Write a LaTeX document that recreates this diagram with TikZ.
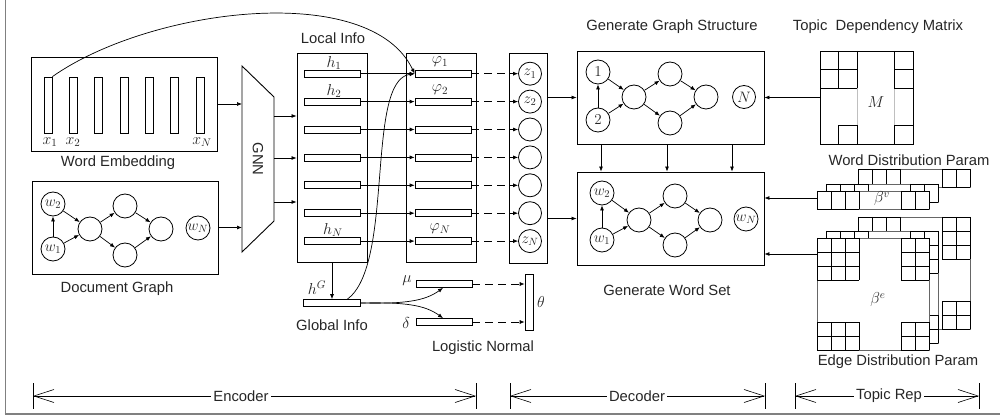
\documentclass[tikz,border=0pt]{standalone}
\usepackage{fontspec}
\setmainfont{Liberation Sans}
\usetikzlibrary{arrows.meta,calc}
\newcommand{\cellblk}[5]{%
  \foreach \ii in {0,...,#3}{\draw[cellln] ({#1+14*\ii},{#2}) -- ({#1+14*\ii},{#2+#5*#4});}%
  \foreach \jj in {0,...,#4}{\draw[cellln] ({#1},{#2+#5*\jj}) -- ({#1+14*#3},{#2+#5*\jj});}%
}
\newcommand{\bvlayer}[2]{%
  \draw[layln, fill=white] ({#1},{#2}) rectangle ({#1+112},{#2+18});
  \cellblk{#1}{#2}{3}{1}{18}
  \cellblk{#1+84}{#2}{2}{1}{18}
}
\newcommand{\belayer}[2]{%
  \draw[layln, fill=white] ({#1},{#2}) rectangle ({#1+112},{#2+112});
  \cellblk{#1}{#2}{3}{3}{14}
  \cellblk{#1+84}{#2}{2}{3}{14}
  \cellblk{#1}{#2+84}{3}{2}{14}
  \cellblk{#1+84}{#2+84}{2}{2}{14}
}
\begin{document}
\begin{tikzpicture}[x=1pt,y=-1pt,
  every node/.style={font=\fontsize{14.8}{17}\selectfont, text=black!85},
  box/.style={draw, line width=0.9pt, inner sep=0},
  bar/.style={draw, fill=white, line width=0.7pt, inner sep=0, minimum width=56pt, minimum height=7pt},
  vbar/.style={draw, fill=white, line width=0.7pt, inner sep=0, minimum width=8pt, minimum height=56pt},
  circ/.style={circle, draw, line width=0.8pt, minimum size=24pt, inner sep=0},
  arr/.style={-{Latex[length=5pt,width=4pt]}, line width=0.7pt},
  dsh/.style={arr, dash pattern=on 8pt off 5pt},
  lbl/.style={inner sep=0},
  mth/.style={inner sep=0, scale=1.1},
  cmth/.style={inner sep=0, scale=1.05},
  cellln/.style={line width=0.8pt, black},
  layln/.style={line width=0.8pt, black!60},
  dim/.style={{Straight Barb[length=20pt,width=13pt]}-{Straight Barb[length=20pt,width=13pt]}, line width=0.6pt},
  tick/.style={line width=0.8pt},
  dimlbl/.style={fill=white, inner sep=2pt}
]
\useasboundingbox (0,0) rectangle (1000,419);
% frame
\draw[gray, line width=1pt] (5.5,-2) -- (5.5,414);
\draw[gray, line width=2.2pt] (4.5,414) -- (1002,414);

% ---------- Word embedding ----------
\node[box, minimum width=186pt, minimum height=94pt] (we) at (124,104) {};
\foreach \k in {0,...,6} \node[vbar] (x\k) at ({48+25.33*\k},105) {};
\node[mth] (lx1) at (50,142) {$x_1$};
\node[mth] (lx2) at (73,142) {$x_2$};
\node[mth] (lxn) at (202,142) {$x_N$};
\node[lbl] (tWE) at (118,163) {Word Embedding};

% ---------- Document graph ----------
\node[box, minimum width=186pt, minimum height=93pt] (dg) at (125,227.5) {};
\node[circ] (dw2) at (53,204) {};
\node[circ] (dw1) at (53,249) {};
\node[circ] (dm) at (90,229) {};
\node[circ] (dt) at (125,206) {};
\node[circ] (db) at (125,255) {};
\node[circ] (dr) at (161,229) {};
\node[circ] (dwn) at (198,228) {};
\node[cmth] at (dw2) {$w_2$};
\node[cmth] at (dw1) {$w_1$};
\node[cmth] at (dwn) {$w_N$};
\draw[arr] (dw1) -- (dw2);
\draw[arr] (dw2) -- (dm);
\draw[arr] (dw1) -- (dm);
\draw[arr] (dm) -- (dt);
\draw[arr] (dm) -- (db);
\draw[arr] (dt) -- (dr);
\draw[arr] (db) -- (dr);
\node[lbl] (tDG) at (117,289) {Document Graph};

% ---------- GNN ----------
\coordinate (gA) at (242,66);
\coordinate (gB) at (274,97);
\coordinate (gC) at (274,221);
\coordinate (gD) at (242,252);
\draw[line width=0.9pt] (gA) -- (gB) -- (gC) -- (gD) -- cycle;
\node[rotate=-90, lbl] (gnn) at (258,159) {GNN};
\draw[arr] (we.east) -- (we.east -| gA);
\draw[arr] (dg.east) -- (dg.east -| gA);

% ---------- Local info ----------
\node[box, minimum width=70pt, minimum height=209pt] (li) at (332,157.5) {};
\node[lbl] (tLI) at (333,38) {Local Info};
\foreach \k in {1,...,7} \node[bar] (h\k) at (332,{73.7+27.9*(\k-1)}) {};
\node[mth] at (334,63) {$h_1$};
\node[mth] at (334,91) {$h_2$};
\node[mth] at (333,230) {$h_N$};
\coordinate (gc1) at (274,116);
\coordinate (gc2) at (274,158);
\coordinate (gc3) at (274,202);
\foreach \c in {gc1,gc2,gc3} \draw[arr] (\c) -- (\c -| li.west);

% ---------- phi ----------
\node[box, minimum width=70pt, minimum height=209pt] (pb) at (441,157.5) {};
\foreach \k in {1,...,7} \node[bar] (p\k) at (443,{73.7+27.9*(\k-1)}) {};
\foreach \k in {1,...,7} \draw[arr] (h\k.east) -- (p\k.west);
\node[mth] at (440,62) {$\varphi_1$};
\node[mth] at (440,90) {$\varphi_2$};
\node[mth] at (440,229) {$\varphi_N$};

% ---------- z ----------
\node[box, minimum width=38pt, minimum height=210pt] (zb) at (528,158) {};
\foreach \k in {1,...,7} \node[circ, minimum size=23pt] (z\k) at (530,{73.7+27.9*(\k-1)}) {};
\node[cmth] at (z1) {$z_1$};
\node[cmth] at (z2) {$z_2$};
\node[cmth] at (z7) {$z_N$};
\foreach \k in {1,...,7} \draw[dsh] (p\k.east) -- (z\k.west);

% ---------- global ----------
\node[bar, minimum width=57pt] (hg) at (331.5,303) {};
\draw[arr] (li.south) -- (li.south |- hg.north);
\node[mth] at (317,288) {$h^G$};
\node[lbl] (tGI) at (332,325) {Global Info};
\node[bar] (mu) at (444,284) {};
\node[bar] (de) at (444,322) {};
\node[mth] at (407,281) {$\mu$};
\node[mth] at (406,323) {$\delta$};
\draw[arr] (hg.east) .. controls (405,304) and (425,301) .. ($(mu.south)+(-1,0)$);
\draw[arr] (hg.east) .. controls (405,302) and (425,305) .. ($(de.north)+(-1,0)$);
\node[vbar] (th) at (529,302) {};
\node[mth] at (541,302) {$\theta$};
\draw[dsh] (mu.east) -- (mu.east -| th.west);
\draw[dsh] (de.east) -- (de.east -| th.west);
\node[lbl] (tLN) at (483,348) {Logistic Normal};

% long curves
\coordinate (hgs) at (347,299.5);
\draw[arr] (hgs) .. controls (395,265) and (365,80) .. (p1.west);
\draw[arr] (x0.north east) .. controls (150,8) and (370,-20) .. (p1.west);

% ---------- Graph structure ----------
\node[box, minimum width=187pt, minimum height=93pt] (gs) at (670.5,97.5) {};
\node[lbl] (tGS) at (672,27) {Generate Graph Structure};
\node[circ] (g1) at (598,72) {};
\node[circ] (g2) at (598,120) {};
\node[circ] (gm) at (634,97) {};
\node[circ] (gt) at (670,74) {};
\node[circ] (gb) at (670,123) {};
\node[circ] (gr) at (706,97) {};
\node[circ, minimum size=23pt] (gN) at (744,97) {};
\node[cmth] at (g1) {$1$};
\node[cmth] at (g2) {$2$};
\node[cmth] at (gN) {$N$};
\draw[arr] (g2) -- (g1);
\draw[arr] (g1) -- (gm);
\draw[arr] (g2) -- (gm);
\draw[arr] (gm) -- (gt);
\draw[arr] (gm) -- (gb);
\draw[arr] (gt) -- (gr);
\draw[arr] (gb) -- (gr);

% ---------- Word set ----------
\node[box, minimum width=187pt, minimum height=93pt] (ws) at (670.5,218.5) {};
\node[lbl] (tWS) at (667,290) {Generate Word Set};
\node[circ] (w2) at (602,193) {};
\node[circ] (w1) at (602,240) {};
\node[circ] (wm) at (639,220) {};
\node[circ] (wt) at (675,196) {};
\node[circ] (wb) at (675,245) {};
\node[circ] (wr) at (710,220) {};
\node[circ] (wN) at (746,219) {};
\node[cmth] at (w2) {$w_2$};
\node[cmth] at (w1) {$w_1$};
\node[cmth] at (wN) {$w_N$};
\draw[arr] (w1) -- (w2);
\draw[arr] (w2) -- (wm);
\draw[arr] (w1) -- (wm);
\draw[arr] (wm) -- (wt);
\draw[arr] (wm) -- (wb);
\draw[arr] (wt) -- (wr);
\draw[arr] (wb) -- (wr);

\draw[arr] (zb.east |- gs.west) -- (gs.west);
\draw[arr] (zb.east |- ws.west) -- (ws.west);
\foreach \xx in {601,667,732} \draw[arr] (gs.south -| \xx,0) -- (ws.north -| \xx,0);

% ---------- Topic dependency matrix ----------
\node[box, minimum width=93pt, minimum height=93pt] (tm) at (866.5,97.5) {};
\node[lbl] (tTM) at (878,27) {Topic~~Dependency Matrix};
\draw[gray!50, line width=0.7pt] (857.2,88.2) -- (857.2,125.4) (894.4,88.2) -- (894.4,125.4);
\draw[cellln] (820,69.6) -- (857.2,69.6) (820,88.2) -- (857.2,88.2)
  (838.6,51) -- (838.6,88.2) (857.2,51) -- (857.2,88.2)
  (894.4,51) -- (894.4,88.2) (894.4,69.6) -- (913,69.6) (894.4,88.2) -- (913,88.2)
  (838.6,125.4) rectangle (857.2,144)
  (894.4,125.4) -- (913,125.4) (894.4,125.4) -- (894.4,144);
\node[mth] (lM) at (876,102) {$M$};
\draw[arr] (tm.west) -- (tm.west -| gs.east);

% ---------- beta^v ----------
\node[lbl] (tWD) at (909,160) {Word Distribution Param};
\bvlayer{858}{169}
\bvlayer{826}{184}
\bvlayer{817}{191}
\node[mth] (lbv) at (882,199) {$\beta^v$};
\coordinate (bva) at (817,198);
\draw[arr] (bva) -- (bva -| ws.east);

% ---------- beta^e ----------
\belayer{858}{217}
\belayer{826}{231}
\belayer{817}{238}
\node[mth] (lbe) at (878,300) {$\beta^e$};
\coordinate (bea) at (817,254);
\draw[arr] (bea) -- (bea -| ws.east);
\node[lbl] (tED) at (898,362) {Edge Distribution Param};

% ---------- dimension lines ----------
\coordinate (e1) at (33,396);
\coordinate (e2) at (476,396);
\coordinate (d1) at (510,396);
\coordinate (d2) at (765,396);
\coordinate (t1) at (795,396);
\coordinate (t2) at (979,396);
\foreach \c in {e1,e2,d1,d2,t1,t2} \draw[tick] ($(\c)+(0,-13)$) -- ($(\c)+(0,13)$);
\draw[dim] (e1) -- (e2);
\draw[dim] (d1) -- (d2);
\draw[dim] (t1) -- (t2);
\node[dimlbl] (lEnc) at (241,396) {Encoder};
\node[dimlbl] (lDec) at (637,396) {Decoder};
\node[dimlbl] (lTop) at (889,396) {Topic Rep};
\end{tikzpicture}
\end{document}
